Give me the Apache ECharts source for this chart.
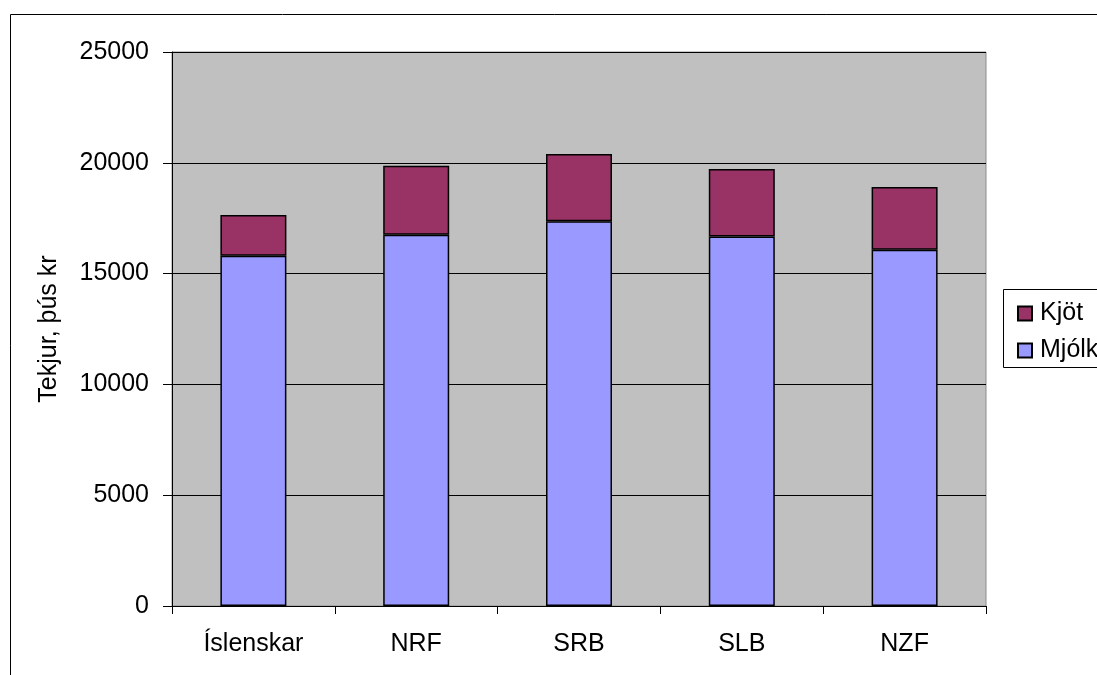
<!DOCTYPE html>
<html>
<head>
<meta charset="utf-8">
<script src="https://cdn.jsdelivr.net/npm/echarts@6/dist/echarts.min.js"></script>
<style>
html,body{margin:0;padding:0;background:#fff;}
#chart{width:1097px;height:675px;}
</style>
</head>
<body>
<div id="chart"></div>
<script>
const categories = ['Íslenskar', 'NRF', 'SRB', 'SLB', 'NZF'];
const mjolk = [15800, 16750, 17360, 16670, 16080];
const kjot = [1850, 3120, 3040, 3050, 2830];
const yTicks = [0, 5000, 10000, 15000, 20000, 25000];

const FONT = '"Liberation Sans", Arial, sans-serif';
const FS = 25;
const chart = echarts.init(document.getElementById('chart'), null, {renderer: 'canvas'});
chart.setOption({
  animation: false,
  backgroundColor: '#ffffff',
  textStyle: {fontFamily: FONT},
  graphic: [
    {type: 'rect', z: -10, shape: {x: 10.5, y: 14.5, width: 1200, height: 700},
     style: {fill: 'none', stroke: '#000', lineWidth: 1}},
    {type: 'rect', z: 0, shape: {x: 1003.5, y: 289.5, width: 200, height: 78},
     style: {fill: '#fff', stroke: '#000', lineWidth: 1}},
    {type: 'rect', z: -5, shape: {x: 172, y: 52, width: 814, height: 554},
     style: {fill: '#c0c0c0', stroke: '#8c8c8c', lineWidth: 1}}
  ],
  grid: {left: 172, right: 111, top: 52, bottom: 69, containLabel: false},
  legend: {
    orient: 'vertical',
    left: 1012, top: 296,
    icon: 'rect',
    itemWidth: 14, itemHeight: 14,
    itemGap: 12,
    data: ['Kjöt', 'Mjólk'],
    textStyle: {fontSize: FS, color: '#000', fontFamily: FONT, padding: [0, 0, 0, 3]},
    z: 10
  },
  xAxis: {
    type: 'category',
    data: categories,
    boundaryGap: true,
    axisLine: {lineStyle: {color: '#000', width: 1}},
    axisTick: {show: true, length: 8, inside: false, lineStyle: {color: '#000'}},
    axisLabel: {fontSize: FS, color: '#000', margin: 26, fontFamily: FONT},
    splitLine: {show: false}
  },
  yAxis: {
    type: 'value',
    min: 0, max: 25000, interval: 5000,
    name: 'Tekjur, þús kr',
    nameLocation: 'middle',
    nameRotate: 90,
    nameGap: 110,
    nameTextStyle: {fontSize: FS, color: '#000', fontFamily: FONT},
    axisLine: {show: true, lineStyle: {color: '#000', width: 1}},
    axisTick: {show: true, length: 9, inside: false, lineStyle: {color: '#000'}},
    axisLabel: {fontSize: FS, color: '#000', margin: 23, fontFamily: FONT,
      formatter: v => (yTicks.indexOf(v) >= 0 ? String(v) : '')},
    splitLine: {show: true, lineStyle: {color: '#000', width: 1}}
  },
  series: [
    {name: 'Mjólk', type: 'bar', stack: 'total', data: mjolk, barWidth: 66,
     itemStyle: {color: '#9999ff', borderColor: '#000', borderWidth: 1.5}},
    {name: 'Kjöt', type: 'bar', stack: 'total', data: kjot, barWidth: 66,
     itemStyle: {color: '#993366', borderColor: '#000', borderWidth: 1.5}}
  ]
});
</script>
</body>
</html>
